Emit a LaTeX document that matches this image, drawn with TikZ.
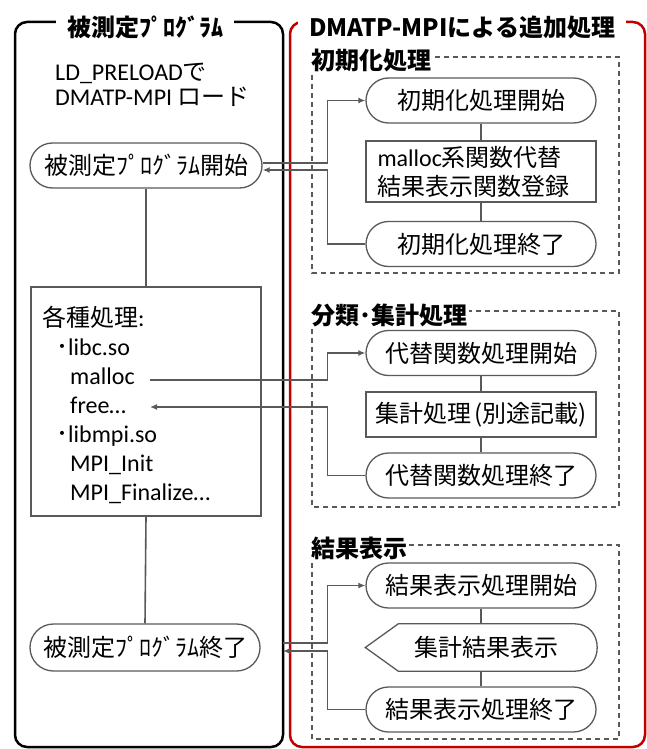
\documentclass[tikz,border=0pt]{standalone}
\usepackage{fontspec}
\setmainfont{Noto Sans CJK JP}
\newfontfamily\lat{Carlito}
\usetikzlibrary{shapes.misc,arrows.meta}
\definecolor{gr}{HTML}{595959}
\definecolor{dred}{HTML}{C00000}
\begin{document}
\begin{tikzpicture}[x=1pt,y=-1pt,
 every node/.style={font=\fontsize{24}{29}\selectfont, text=black, inner sep=0pt},
 term/.style={rounded rectangle, draw=gr, line width=1.3pt, minimum width=230pt, minimum height=45pt},
 pbox/.style={rectangle, draw=gr, line width=1.3pt, minimum width=230pt},
 conn/.style={draw=gr, line width=1.6pt},
 arr/.style={conn, -{Latex[length=7pt,width=6pt]}},
 grp/.style={draw=gr, line width=1.3pt, dash pattern=on 5pt off 4pt},
 grplbl/.style={font=\bfseries\fontsize{24}{24}\selectfont, fill=white, inner sep=2pt, anchor=west},
 ptitle/.style={font=\bfseries\fontsize{24}{24}\selectfont, fill=white, inner xsep=11pt, inner ysep=3pt},
 txt/.style={anchor=base west},
]
\useasboundingbox (0,0) rectangle (647,749);
% panels
\draw[line width=2.5pt, rounded corners=12pt] (15,22) rectangle (283,747);
\draw[dred, line width=2.5pt, rounded corners=12pt] (290,22) rectangle (645,747);
\node[ptitle] (t1) at (145,27) {被測定ﾌﾟﾛｸﾞﾗﾑ};
\node[ptitle] (t2) at (462,27) {DMATP-MPIによる追加処理};
% groups
\draw[grp] (312,57) rectangle (619,273);
\node[grplbl] (g1) at (309,60) {初期化処理};
\draw[grp] (312,311) rectangle (619,507);
\node[grplbl] (g2) at (309,315) {分類･集計処理};
\draw[grp] (312,545) rectangle (619,739);
\node[grplbl] (g3) at (309,548) {結果表示};
% left panel
\node[anchor=west, align=left, font=\fontsize{24}{25}\selectfont] (ld) at (55,85) {{\lat LD\_PRELOAD}で\\{\lat DMATP-MPI} ロード};
\node[term, minimum width=232pt] (pstart) at (146,165.5) {被測定ﾌﾟﾛｸﾞﾗﾑ開始};
\node[pbox, minimum height=229pt] (list) at (146,401.5) {};
\node[txt] (l1) at (42,326) {各種処理{\lat :}};
\node[txt] (l2) at (56,355) {･{\lat libc.so}};
\node[txt] (l3) at (70,384) {\lat malloc};
\node[txt] (l4) at (70,413) {\lat free…};
\node[txt] (l5) at (56,442) {･{\lat libmpi.so}};
\node[txt] (l6) at (70,471) {\lat MPI\_Init};
\node[txt] (l7) at (70,500) {\lat MPI\_Finalize…};
\node[term, minimum height=47pt] (pend) at (145,647.5) {被測定ﾌﾟﾛｸﾞﾗﾑ終了};
\draw[conn] (pstart.south) -- (list.north);
\draw[conn] (list.south) -- (pend.north);
% init group
\node[term] (istart) at (481,100.5) {初期化処理開始};
\node[pbox, minimum height=61pt, align=left, text width=207pt] (iproc) at (481,171.5) {{\lat malloc}系関数代替\\結果表示関数登録};
\node[term] (iend) at (481,244) {初期化処理終了};
\draw[conn] (istart.south) -- (iproc.north);
\draw[conn] (iproc.south) -- (iend.north);
% count group
\node[term] (cstart) at (481,353) {代替関数処理開始};
\node[pbox, minimum height=45pt] (cproc) at (481,414.5) {集計処理\hspace{3pt}(別途記載)};
\node[term] (cend) at (481,475.5) {代替関数処理終了};
\draw[conn] (cstart.south) -- (cproc.north);
\draw[conn] (cproc.south) -- (cend.north);
% result group
\node[term] (rstart) at (481,585.5) {結果表示処理開始};
\node[minimum width=231pt, minimum height=47pt] (rdisp) at (481,647.5) {\hspace*{10pt}集計結果表示};
\draw[draw=gr, line width=1.3pt] (rdisp.west) -- ([xshift=33pt]rdisp.north west) -- ([xshift=-22pt]rdisp.north east)
  .. controls ([xshift=8pt]rdisp.north east) and ([xshift=8pt]rdisp.south east) .. ([xshift=-22pt]rdisp.south east)
  -- ([xshift=33pt]rdisp.south west) -- cycle;
\node[term] (rend) at (481,709.5) {結果表示処理終了};
\draw[conn] (rstart.south) -- (rdisp.north);
\draw[conn] (rdisp.south) -- (rend.north);
% junction column and connector ends
\coordinate (xj) at (327.5,0);
\coordinate (a1) at ([yshift=2.5pt]pstart.east);
\coordinate (a2) at ([yshift=-4.5pt]pstart.east);
\coordinate (mR) at (150,380);
\coordinate (fR) at (150,407);
\coordinate (e1) at (283,643);
\coordinate (e2) at (283,651);
\draw[arr] (a1) -- (a1 -| xj) |- (istart.west);
\draw[arr] (iend.west) -- (iend.west -| xj) |- (a2);
\draw[arr] (mR) -- (mR -| xj) |- (cstart.west);
\draw[arr] (cend.west) -- (cend.west -| xj) |- (fR);
\draw[arr] (e1) -- (e1 -| xj) |- (rstart.west);
\draw[arr] (rend.west) -- (rend.west -| xj) |- (e2);
\end{tikzpicture}
\end{document}
